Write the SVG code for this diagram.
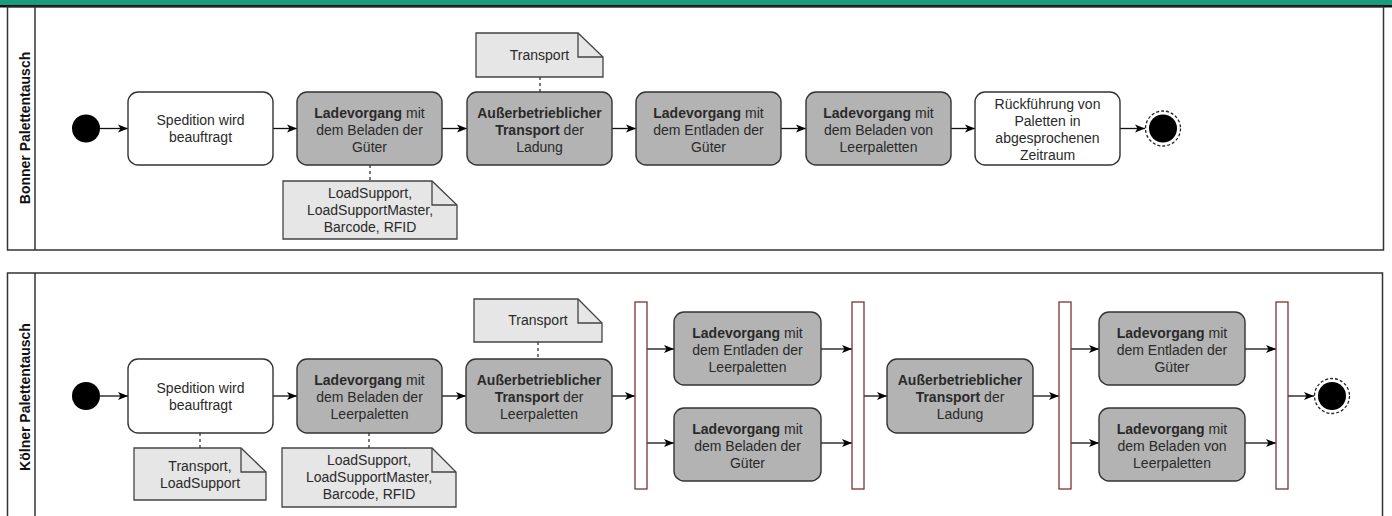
<svg xmlns="http://www.w3.org/2000/svg" width="1392" height="516" viewBox="0 0 1392 516">
<style>
.lane{fill:#fff;stroke:#333;stroke-width:1.5}
.lbl{font-family:"Liberation Sans",Arial,sans-serif;font-size:14px;font-weight:bold;fill:#111;text-anchor:middle}
.act{stroke:#333;stroke-width:1.4}
.w{fill:#fff}
.g{fill:#b3b3b3}
.t{font-family:"Liberation Sans",Arial,sans-serif;font-size:14px;fill:#2a2a2a;text-anchor:middle}
.b{font-weight:bold}
.note{fill:#e6e6e6;stroke:#444;stroke-width:1.3}
.fold{fill:none;stroke:#444;stroke-width:1.3}
.bar{fill:#fff;stroke:#7a3535;stroke-width:1.3}
.edge{stroke:#111;stroke-width:1.3;fill:none;marker-end:url(#ah)}
.dash{stroke:#222;stroke-width:1.2;stroke-dasharray:3 3;fill:none}
.start{fill:#000}
.endo{fill:none;stroke:#222;stroke-width:1.3;stroke-dasharray:3 2}
</style>
<defs>
<marker id="ah" viewBox="0 0 10 10" refX="10" refY="5" markerWidth="10" markerHeight="10" markerUnits="userSpaceOnUse" orient="auto">
<path d="M0,1 L10,5 L0,9 L2.5,5 Z" fill="#000"/>
</marker>
</defs>
<rect x="0" y="0" width="1392" height="516" fill="#fff"/>
<rect x="0" y="0" width="1392" height="5" fill="#189c7b"/>
<rect x="0" y="5" width="1392" height="2.5" fill="#111"/>

<g id="lane-bonn">
<rect class="lane" x="7.5" y="7" width="1376" height="243"/>
<line x1="35" y1="7" x2="35" y2="250" stroke="#333" stroke-width="1.5"/>
<text class="lbl" transform="translate(30,128) rotate(-90)">Bonner Palettentausch</text>
</g>
<g id="lane-koeln">
<rect class="lane" x="7.5" y="273" width="1375" height="252"/>
<line x1="35" y1="273" x2="35" y2="525" stroke="#333" stroke-width="1.5"/>
<text class="lbl" transform="translate(30,397) rotate(-90)">Kölner Palettentausch</text>
</g>

<g id="connectors">
<line class="edge" x1="100" y1="128.5" x2="128" y2="128.5"/>
<line class="edge" x1="273" y1="128.5" x2="297" y2="128.5"/>
<line class="edge" x1="442" y1="128.5" x2="467" y2="128.5"/>
<line class="edge" x1="612" y1="128.5" x2="636" y2="128.5"/>
<line class="edge" x1="781" y1="128.5" x2="806" y2="128.5"/>
<line class="edge" x1="951" y1="128.5" x2="975" y2="128.5"/>
<line class="edge" x1="1120" y1="128.5" x2="1145" y2="128.5"/>
<line class="dash" x1="540" y1="77" x2="540" y2="92"/>
<line class="dash" x1="370" y1="165" x2="370" y2="181"/>

<line class="edge" x1="100" y1="396" x2="128" y2="396"/>
<line class="edge" x1="273" y1="396" x2="297" y2="396"/>
<line class="edge" x1="442" y1="396" x2="466" y2="396"/>
<line class="edge" x1="612" y1="396" x2="635" y2="396"/>
<line class="edge" x1="647" y1="349" x2="674" y2="349"/>
<line class="edge" x1="647" y1="443" x2="674" y2="443"/>
<line class="edge" x1="821" y1="349" x2="852" y2="349"/>
<line class="edge" x1="821" y1="443" x2="852" y2="443"/>
<line class="edge" x1="864" y1="396" x2="887" y2="396"/>
<line class="edge" x1="1033" y1="396" x2="1059" y2="396"/>
<line class="edge" x1="1071" y1="349" x2="1099" y2="349"/>
<line class="edge" x1="1071" y1="443" x2="1099" y2="443"/>
<line class="edge" x1="1245" y1="349" x2="1276" y2="349"/>
<line class="edge" x1="1245" y1="443" x2="1276" y2="443"/>
<line class="edge" x1="1288" y1="396" x2="1314" y2="396"/>
<line class="dash" x1="538" y1="342" x2="538" y2="359"/>
<line class="dash" x1="200" y1="433" x2="200" y2="448"/>
<line class="dash" x1="369" y1="433" x2="369" y2="448"/>
</g>

<!-- Lane 1 nodes -->
<g id="b-start"><circle class="start" cx="86" cy="128.5" r="14"/></g>
<g id="b-spedition">
<rect class="act w" x="128" y="92" width="145" height="73" rx="10"/>
<text class="t" x="200.5" y="125">Spedition wird</text>
<text class="t" x="200.5" y="142">beauftragt</text>
</g>
<g id="b-beladen">
<rect class="act g" x="297" y="92" width="145" height="73" rx="10"/>
<text class="t" x="369.5" y="117.5"><tspan class="b">Ladevorgang</tspan> mit</text>
<text class="t" x="369.5" y="134.5">dem Beladen der</text>
<text class="t" x="369.5" y="151.5">Güter</text>
</g>
<g id="b-transport">
<rect class="act g" x="467" y="92" width="145" height="73" rx="10"/>
<text class="t b" x="539.5" y="117.5">Außerbetrieblicher</text>
<text class="t" x="539.5" y="134.5"><tspan class="b">Transport</tspan> der</text>
<text class="t" x="539.5" y="151.5">Ladung</text>
</g>
<g id="b-entladen">
<rect class="act g" x="636" y="92" width="145" height="73" rx="10"/>
<text class="t" x="708.5" y="117.5"><tspan class="b">Ladevorgang</tspan> mit</text>
<text class="t" x="708.5" y="134.5">dem Entladen der</text>
<text class="t" x="708.5" y="151.5">Güter</text>
</g>
<g id="b-leer">
<rect class="act g" x="806" y="92" width="145" height="73" rx="10"/>
<text class="t" x="878.5" y="117.5"><tspan class="b">Ladevorgang</tspan> mit</text>
<text class="t" x="878.5" y="134.5">dem Beladen von</text>
<text class="t" x="878.5" y="151.5">Leerpaletten</text>
</g>
<g id="b-rueck">
<rect class="act w" x="975" y="92" width="145" height="73" rx="10"/>
<text class="t" x="1047.5" y="108.5">Rückführung von</text>
<text class="t" x="1047.5" y="125.5">Paletten in</text>
<text class="t" x="1047.5" y="142.5">abgesprochenen</text>
<text class="t" x="1047.5" y="159.5">Zeitraum</text>
</g>
<g id="b-end">
<circle class="endo" cx="1163" cy="128.5" r="17.5"/>
<circle class="start" cx="1163" cy="128.5" r="14"/>
</g>
<g id="b-note-transport">
<path class="note" d="M476,33 H578 L603,57 V77 H476 Z"/>
<path class="fold" d="M578,33 V57 H603"/>
<text class="t" x="539.5" y="60">Transport</text>
</g>
<g id="b-note-load">
<path class="note" d="M283,181 H432 L457,205 V239 H283 Z"/>
<path class="fold" d="M432,181 V205 H457"/>
<text class="t" x="370" y="198">LoadSupport,</text>
<text class="t" x="370" y="215">LoadSupportMaster,</text>
<text class="t" x="370" y="232">Barcode, RFID</text>
</g>

<!-- Lane 2 nodes -->
<g id="k-start"><circle class="start" cx="86" cy="396" r="14"/></g>
<g id="k-spedition">
<rect class="act w" x="128" y="359" width="145" height="74" rx="10"/>
<text class="t" x="200.5" y="393">Spedition wird</text>
<text class="t" x="200.5" y="410">beauftragt</text>
</g>
<g id="k-beladen">
<rect class="act g" x="297" y="359" width="145" height="74" rx="10"/>
<text class="t" x="369.5" y="385"><tspan class="b">Ladevorgang</tspan> mit</text>
<text class="t" x="369.5" y="402">dem Beladen der</text>
<text class="t" x="369.5" y="419">Leerpaletten</text>
</g>
<g id="k-transport1">
<rect class="act g" x="466" y="359" width="146" height="74" rx="10"/>
<text class="t b" x="539" y="385">Außerbetrieblicher</text>
<text class="t" x="539" y="402"><tspan class="b">Transport</tspan> der</text>
<text class="t" x="539" y="419">Leerpaletten</text>
</g>
<g id="k-fork1"><rect class="bar" x="635" y="302" width="12" height="187"/></g>
<g id="k-entladen-leer">
<rect class="act g" x="674" y="312" width="147" height="73" rx="10"/>
<text class="t" x="747.5" y="337.5"><tspan class="b">Ladevorgang</tspan> mit</text>
<text class="t" x="747.5" y="354.5">dem Entladen der</text>
<text class="t" x="747.5" y="371.5">Leerpaletten</text>
</g>
<g id="k-beladen-gueter">
<rect class="act g" x="674" y="408" width="147" height="73" rx="10"/>
<text class="t" x="747.5" y="433.5"><tspan class="b">Ladevorgang</tspan> mit</text>
<text class="t" x="747.5" y="450.5">dem Beladen der</text>
<text class="t" x="747.5" y="467.5">Güter</text>
</g>
<g id="k-join1"><rect class="bar" x="852" y="302" width="12" height="187"/></g>
<g id="k-transport2">
<rect class="act g" x="887" y="359" width="146" height="74" rx="10"/>
<text class="t b" x="960" y="385">Außerbetrieblicher</text>
<text class="t" x="960" y="402"><tspan class="b">Transport</tspan> der</text>
<text class="t" x="960" y="419">Ladung</text>
</g>
<g id="k-fork2"><rect class="bar" x="1059" y="302" width="12" height="187"/></g>
<g id="k-entladen-gueter">
<rect class="act g" x="1099" y="312" width="146" height="73" rx="10"/>
<text class="t" x="1172" y="337.5"><tspan class="b">Ladevorgang</tspan> mit</text>
<text class="t" x="1172" y="354.5">dem Entladen der</text>
<text class="t" x="1172" y="371.5">Güter</text>
</g>
<g id="k-beladen-leer">
<rect class="act g" x="1099" y="408" width="146" height="73" rx="10"/>
<text class="t" x="1172" y="433.5"><tspan class="b">Ladevorgang</tspan> mit</text>
<text class="t" x="1172" y="450.5">dem Beladen von</text>
<text class="t" x="1172" y="467.5">Leerpaletten</text>
</g>
<g id="k-join2"><rect class="bar" x="1276" y="302" width="12" height="187"/></g>
<g id="k-end">
<circle class="endo" cx="1332" cy="396" r="17.5"/>
<circle class="start" cx="1332" cy="396" r="14"/>
</g>
<g id="k-note-transport">
<path class="note" d="M474,299 H578 L602,323 V342 H474 Z"/>
<path class="fold" d="M578,299 V323 H602"/>
<text class="t" x="538" y="325">Transport</text>
</g>
<g id="k-note-transport-load">
<path class="note" d="M134,448 H241 L266,472 V500 H134 Z"/>
<path class="fold" d="M241,448 V472 H266"/>
<text class="t" x="200" y="471">Transport,</text>
<text class="t" x="200" y="488">LoadSupport</text>
</g>
<g id="k-note-load">
<path class="note" d="M282,448 H432 L456,472 V507 H282 Z"/>
<path class="fold" d="M432,448 V472 H456"/>
<text class="t" x="369" y="465">LoadSupport,</text>
<text class="t" x="369" y="482">LoadSupportMaster,</text>
<text class="t" x="369" y="499">Barcode, RFID</text>
</g>
</svg>
